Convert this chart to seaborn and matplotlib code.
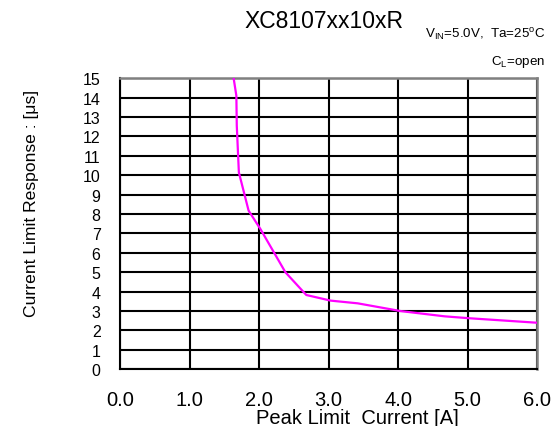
import matplotlib
matplotlib.use("Agg")
import matplotlib.pyplot as plt
from matplotlib import font_manager
import seaborn as sns
import pandas as pd

# Data
peak_current = [1.635, 1.674, 1.68, 1.71, 1.85, 2.02, 2.38, 2.68, 3.03, 3.42, 4.04, 4.67, 5.03, 6.0]
response_us = [15.0, 14.1, 12.56, 10.15, 8.18, 7.23, 5.0, 3.83, 3.54, 3.40, 3.0, 2.73, 2.63, 2.40]
x_ticks = [0, 1, 2, 3, 4, 5, 6]
x_labels = ["0.0", "1.0", "2.0", "3.0", "4.0", "5.0", "6.0"]
y_ticks = list(range(0, 16))
y_labels = [str(v) for v in y_ticks]

sns.set_theme(style="white")
plt.rcParams["font.family"] = ["Liberation Sans", "DejaVu Sans"]
plt.rcParams["mathtext.fontset"] = "custom"
plt.rcParams["mathtext.rm"] = "Liberation Sans"
plt.rcParams["mathtext.it"] = "Liberation Sans"
plt.rcParams["text.color"] = "black"
plt.rcParams["xtick.color"] = "black"
plt.rcParams["ytick.color"] = "black"

names = {f.name for f in font_manager.fontManager.ttflist}
narrow = "Liberation Sans Narrow" if "Liberation Sans Narrow" in names else "Liberation Sans"

df = pd.DataFrame({"x": peak_current, "y": response_us})

fig = plt.figure(figsize=(5.6, 4.27), dpi=100)
ax = fig.add_axes([0.2143, 0.1328, 0.959 - 0.2143, 0.8143 - 0.1328])

sns.lineplot(data=df, x="x", y="y", sort=False, estimator=None,
             color="#FF00FF", linewidth=1.6, ax=ax, zorder=5)

ax.set_xlim(0, 6)
ax.set_ylim(0, 15)
ax.set_xticks(x_ticks)
ax.set_xticklabels(x_labels, fontsize=14.5)
ax.set_yticks(y_ticks)
ax.set_yticklabels(y_labels, fontsize=12.5 if narrow != "Liberation Sans" else 11.5,
                   family=[narrow, "DejaVu Sans"])
ax.tick_params(axis="x", length=0, pad=15)
ax.tick_params(axis="y", length=0, pad=14)
ax.grid(True, color="black", linewidth=1.5)
ax.set_axisbelow(True)
for side in ["left", "bottom"]:
    ax.spines[side].set_color("black")
    ax.spines[side].set_linewidth(1.5)
for side in ["top", "right"]:
    ax.spines[side].set_color("#808080")
    ax.spines[side].set_linewidth(1.8)
ax.set_xlabel("")
ax.set_ylabel("")

fig.text(0.578, 0.934, "XC8107xx10xR", fontsize=16.5, ha="center", va="baseline")
fig.text(0.973, 0.908, "V$_{\\mathrm{IN}}$=5.0V,  Ta=25$^{\\mathrm{o}}$C", fontsize=9.6,
         ha="right", va="baseline")
fig.text(0.973, 0.848, "C$_{\\mathrm{L}}$=open", fontsize=9.6, ha="right", va="baseline")
fig.text(0.638, 0.006, "Peak Limit  Current [A]", fontsize=14.5, ha="center", va="baseline")
fig.text(0.056, 0.523, "Current Limit Response : [μs]", fontsize=12.6, rotation=90,
         ha="center", va="center")

fig.savefig("out.png", dpi=100)
